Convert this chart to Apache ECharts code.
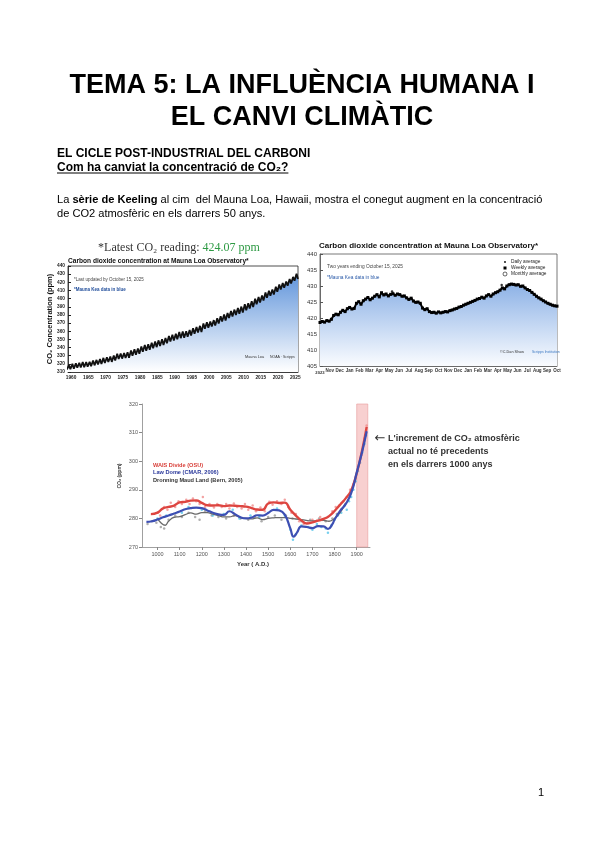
<!DOCTYPE html>
<html><head><meta charset="utf-8">
<script src="https://cdn.jsdelivr.net/npm/echarts@6/dist/echarts.min.js"></script>
<style>html,body{margin:0;padding:0;background:#fff}#c{width:600px;height:848px}</style>
</head><body><div id="c"></div><script>
// ---------- Chart 1: Keeling curve (Mauna Loa, seasonal peaks & troughs) ----------
const keelYears = [1958,1959,1960,1961,1962,1963,1964,1965,1966,1967,1968,1969,1970,1971,1972,1973,1974,1975,1976,1977,1978,1979,1980,1981,1982,1983,1984,1985,1986,1987,1988,1989,1990,1991,1992,1993,1994,1995,1996,1997,1998,1999,2000,2001,2002,2003,2004,2005,2006,2007,2008,2009,2010,2011,2012,2013,2014,2015,2016,2017,2018,2019,2020,2021,2022,2023,2024,2025];
const keelPeak = [317.5,318.3,320.0,320.6,321.3,322.2,322.2,322.4,324.0,324.8,325.8,327.3,328.1,328.9,330.1,332.5,332.6,333.3,334.2,336.4,337.8,338.8,341.3,343.1,344.0,345.8,347.4,348.8,350.3,351.6,354.2,355.6,357.0,359.0,359.6,360.0,361.6,363.6,365.3,366.6,369.5,370.9,371.8,373.6,375.9,378.5,380.5,382.3,384.8,386.5,388.5,390.2,393.1,394.2,396.8,399.8,401.9,403.9,407.6,409.6,411.2,414.7,417.3,419.1,421.0,424.0,426.6,430.5];
const keelTrough = [313.3,313.6,314.0,315.2,315.5,315.9,316.6,317.2,318.2,319.2,319.8,321.0,322.2,322.4,324.1,325.9,326.4,327.2,327.6,329.8,331.1,332.4,334.8,336.0,337.3,339.2,340.5,342.0,343.1,345.3,347.5,348.7,350.2,351.5,352.1,353.1,354.8,356.9,358.4,359.1,363.0,364.3,365.9,367.0,369.6,371.8,373.2,376.1,378.0,379.8,381.4,383.0,385.8,387.8,389.7,393.1,395.2,397.6,401.2,403.4,405.1,408.5,411.1,413.4,415.9,418.5,422.0,424.0];
const keelPeakMonth = 5, keelTroughMonth = 9.5;
const keelYearTicks = [1960,1965,1970,1975,1980,1985,1990,1995,2000,2005,2010,2015,2020,2025];

// ---------- Chart 2: Mauna Loa, two years ending Oct 15 2025 (weekly) ----------
const mloMonths = ['Nov','Dec','Jan','Feb','Mar','Apr','May','Jun','Jul','Aug','Sep','Oct','Nov','Dec','Jan','Feb','Mar','Apr','May','Jun','Jul','Aug','Sep','Oct'];
const mloWeekly = [418.6,418.9,418.7,419.2,419.0,419.6,420.8,421.2,421.0,421.8,422.4,422.0,422.9,423.3,422.8,423.0,424.6,425.1,424.3,425.4,425.9,426.4,425.7,426.2,426.8,427.3,426.6,427.9,427.2,427.5,426.9,427.4,427.6,427.1,427.5,427.3,426.8,426.9,426.3,425.8,426.2,425.3,424.9,425.0,424.6,423.1,422.6,422.9,422.0,421.7,421.8,421.5,421.9,421.6,421.8,422.0,421.9,422.3,422.5,422.8,423.0,423.4,423.6,424.0,424.3,424.6,424.9,425.2,425.5,425.9,426.1,426.5,426.2,426.9,427.3,426.8,427.5,427.9,428.2,428.7,429.4,429.1,430.0,430.4,430.6,430.5,430.3,430.4,429.9,430.0,429.4,428.9,428.6,428.0,427.4,426.8,426.3,425.9,425.4,425.0,424.6,424.3,424.0,423.8,423.7];
const mloDailyOutliers = [[10.95,418.4],[9.9,424.2],[18.4,430.3],[20.4,427.6],[4.2,423.9],[7.3,428.3]];

// ---------- Chart 3: last 1000 years (ice cores) ----------
const waisYears = [970,1000,1025,1050,1075,1100,1125,1150,1175,1200,1225,1250,1275,1300,1325,1350,1375,1400,1425,1450,1475,1500,1525,1550,1575,1600,1625,1650,1675,1700,1725,1750,1775,1800,1825,1850,1875,1900,1925,1945];
const waisCO2  = [281.5,282,283.5,284,284.5,285.6,285.8,286.2,286.3,285.4,284.6,284.5,284.6,284.3,284.5,284.4,284.3,284.1,283.6,283.1,283.0,285.2,285.6,285.4,285.5,283.0,281.0,279.3,278.2,278.6,279.2,279.8,280.8,282.6,284.8,287.0,289.8,295.8,304.0,312.0];
const ldYears = [950,975,1000,1025,1050,1075,1100,1125,1150,1175,1200,1225,1250,1275,1300,1325,1350,1375,1400,1425,1450,1475,1500,1525,1550,1575,1600,1615,1630,1650,1675,1700,1725,1750,1770,1790,1800,1825,1850,1875,1900,1925,1945];
const ldCO2   = [278.8,279.0,279.6,280.4,281.0,281.7,282.4,283.2,283.6,283.8,283.6,282.8,282.0,281.4,281.2,282.5,281.5,280.4,280.0,280.3,281.1,281.0,281.9,283.0,282.8,281.3,276.5,273.6,275.0,277.2,277.0,276.6,277.3,277.2,276.3,278.0,279.6,282.6,285.0,288.8,296.0,303.5,310.5];
const dmlYears = [1000,1015,1035,1050,1075,1100,1125,1150,1175,1200,1225,1250,1275,1300,1325,1350,1375,1400,1425,1450,1475,1500,1525,1550,1575,1600,1650,1700,1750,1775,1800,1825,1850];
const dmlCO2   = [280.0,278.5,277.6,279.0,280.4,280.6,281.3,281.9,281.5,282.0,282.0,281.5,281.0,280.5,280.5,281.0,280.3,280.0,279.8,280.2,279.6,280.0,280.2,280.3,280.3,280.0,279.6,279.1,279.3,279.0,280.0,282.0,285.5];
const waisPts = [[1002,282],[1012,281],[1030,284],[1045,283],[1060,285.5],[1080,284],[1095,286],[1110,285],[1130,286.5],[1145,285],[1160,287],[1175,286],[1190,285],[1205,287.5],[1215,284],[1235,285],[1255,283.8],[1270,285],[1290,284],[1310,285],[1325,283.5],[1345,285.2],[1360,284],[1380,283.5],[1395,285],[1410,283],[1430,284.5],[1445,282.5],[1465,283.8],[1485,282.5],[1505,285.8],[1520,284.8],[1540,286],[1560,285],[1575,286.5],[1590,284],[1605,282],[1625,281.5],[1640,279],[1660,278],[1680,278.5],[1700,279.5],[1720,279.2],[1735,280.5],[1750,279.5],[1770,280.5],[1790,282.5],[1805,284],[1820,284.5],[1840,286],[1855,287.5],[1870,290],[1885,292],[1905,298],[1920,302],[1935,308],[1945,312.5]];
const ldPts = [[1000,280],[1040,281],[1110,282],[1140,284],[1200,283],[1250,281],[1300,281.5],[1340,283],[1370,280],[1420,281],[1460,280.5],[1500,282],[1540,283.5],[1575,281],[1600,276],[1612,272.5],[1625,274.5],[1650,277.5],[1680,277],[1700,276],[1720,278],[1740,277],[1760,276.5],[1770,275],[1785,277.5],[1800,279.5],[1815,281],[1830,282],[1845,284.5],[1855,283],[1865,286],[1875,287.5],[1885,290],[1895,293],[1905,296.5],[1915,299.5],[1925,303],[1935,306],[1942,309]];
const dmlPts = [[955,278],[975,279],[995,278.5],[1015,277],[1030,276.5],[1050,279.5],[1080,281],[1110,280.5],[1140,282],[1170,280.5],[1190,279.5],[1215,282.5],[1245,281],[1275,280.5],[1310,280],[1345,281],[1375,280],[1410,279.5],[1440,280.5],[1470,279],[1500,280.5],[1530,281],[1560,279.5],[1580,281],[1610,280],[1650,279],[1690,279.5],[1730,280],[1760,279],[1790,280],[1810,281.5],[1830,283]];
const c3YearTicks = [1000,1100,1200,1300,1400,1500,1600,1700,1800,1900];
const industrialBand = [1900, 1950];

// ---------- build ----------
const keelData = [];
keelYears.forEach((y, i) => {
  keelData.push([y + (keelPeakMonth - 0.5) / 12, keelPeak[i]]);
  keelData.push([y + keelTroughMonth / 12, keelTrough[i]]);
});
const mloData = mloWeekly.map((v, i) => [i * 24 / (mloWeekly.length - 1), v]);
const zip = (a, b) => a.map((x, i) => [x, b[i]]);

const SANS = '"Liberation Sans", Arial, sans-serif';
function T(text, x, y, o) {
  o = o || {};
  return {
    type: 'text', x: x, y: y, rotation: o.rot || 0, z: 100,
    style: {
      text: text, x: 0, y: 0,
      fill: o.color || '#000',
      font: (o.weight || 'normal') + ' ' + (o.size || 10) + 'px ' + (o.family || SANS),
      align: o.align || 'left', verticalAlign: o.va || 'middle',
      rich: o.rich
    }
  };
}
function measure(txt, font) {
  const ctx = document.createElement('canvas').getContext('2d');
  ctx.font = font; return ctx.measureText(txt).width;
}
const subTxt = 'Com ha canviat la concentració de CO₂?';
const subW = measure(subTxt, 'bold 12px ' + SANS);
const PF = 11.1;

const graphics = [
  T('TEMA 5: LA INFLUÈNCIA HUMANA I', 302, 86, {size: 27, weight: 'bold', align: 'center'}),
  T('EL CANVI CLIMÀTIC', 302, 118, {size: 27, weight: 'bold', align: 'center'}),
  T('EL CICLE POST-INDUSTRIAL DEL CARBONI', 57, 154, {size: 12, weight: 'bold'}),
  T(subTxt, 57, 168, {size: 12, weight: 'bold'}),
  {type: 'line', shape: {x1: 57, y1: 173, x2: 57 + subW, y2: 173}, style: {stroke: '#000', lineWidth: 1}},
  {type: 'text', x: 57, y: 200, z: 100, style: {text: 'La {b|sèrie de Keeling} al cim  del Mauna Loa, Hawaii, mostra el conegut augment en la concentració', x: 0, y: 0, fill: '#000', font: PF + 'px ' + SANS, verticalAlign: 'middle', rich: {b: {fontWeight: 'bold', fontSize: PF, fontFamily: 'Liberation Sans'}}}},
  T('de CO2 atmosfèric en els darrers 50 anys.', 57, 214, {size: PF}),
  T('1', 538, 793, {size: 11}),
  // chart 1 texts
  {type: 'text', x: 179, y: 248, z: 100, style: {text: '*Latest CO₂ reading: {g|424.07 ppm}', x: 0, y: 0, fill: '#333', font: '12px "Liberation Serif", serif', align: 'center', verticalAlign: 'middle', rich: {g: {fill: '#2e9a44', fontSize: 12, fontFamily: 'Liberation Serif'}}}},
  T('Carbon dioxide concentration at Mauna Loa Observatory*', 68, 261, {size: 6.6, weight: 'bold', color: '#111'}),
  T('*Last updated by October 15, 2025', 74, 280, {size: 4.5, color: '#444'}),
  T('*Mauna Kea data in blue', 74, 290, {size: 4.5, color: '#1f4c9a', weight: 'bold'}),
  T('CO₂ Concentration (ppm)', 50, 319, {size: 7.5, weight: 'bold', align: 'center', rot: Math.PI / 2, color: '#111'}),
  T('Mauna Loa', 245, 357, {size: 3.8, color: '#333'}),
  {type: 'rect', shape: {x: 263, y: 354, width: 5, height: 5}, style: {fill: '#3a6db5'}},
  T('NOAA · Scripps', 270, 357, {size: 3.5, color: '#333'}),
  // chart 2 texts
  T('Carbon dioxide concentration at Mauna Loa Observatory*', 319, 246, {size: 8, weight: 'bold', color: '#111'}),
  T('Two years ending October 15, 2025', 327, 267, {size: 4.8, color: '#444'}),
  T('*Mauna Kea data in blue', 327, 278, {size: 4.8, color: '#2a5aa8'}),
  {type: 'circle', shape: {cx: 505, cy: 262, r: 0.9}, style: {fill: '#000'}},
  {type: 'rect', shape: {x: 503.5, y: 266.5, width: 3, height: 3}, style: {fill: '#000'}},
  {type: 'circle', shape: {cx: 505, cy: 274, r: 2}, style: {fill: '#fff', stroke: '#000', lineWidth: 0.6}},
  T('Daily average', 511, 262, {size: 4.8, color: '#222'}),
  T('Weekly average', 511, 268, {size: 4.8, color: '#222'}),
  T('Monthly average', 511, 274, {size: 4.8, color: '#222'}),
  T('©C.Dan Shaw', 500, 352, {size: 3.8, color: '#333'}),
  {type: 'circle', shape: {cx: 527, cy: 352, r: 3.5}, style: {fill: '#3b78c2'}},
  T('Scripps Institution', 532, 352, {size: 3.5, color: '#3b78c2'}),
  T('2023', 320, 373, {size: 4.2, weight: 'bold', color: '#333', align: 'center'}),
  // chart 3 texts
  T('WAIS Divide (OSU)', 153, 465, {size: 5.6, weight: 'bold', color: '#d8403a'}),
  T('Law Dome (CMAR, 2006)', 153, 472.5, {size: 5.6, weight: 'bold', color: '#2c3a9c'}),
  T('Dronning Maud Land (Bern, 2005)', 153, 480, {size: 5.6, weight: 'bold', color: '#333'}),
  T('Year ( A.D.)', 253, 564, {size: 6, weight: 'bold', color: '#333', align: 'center'}),
  T('CO₂ (ppm)', 120, 476, {size: 5, weight: 'bold', color: '#333', align: 'center', rot: Math.PI / 2}),
  T('←', 380, 439, {size: 13, weight: 'normal', color: '#333', align: 'center', family: '"DejaVu Sans", sans-serif'}),
  T("L'increment de CO₂ atmosfèric", 388, 439, {size: 9, weight: 'bold', color: '#333'}),
  T('actual no té precedents', 388, 452, {size: 9, weight: 'bold', color: '#333'}),
  T('en els darrers 1000 anys', 388, 465, {size: 9, weight: 'bold', color: '#333'})
];

const lbl = (size, color, bold) => ({fontSize: size, color: color, fontWeight: bold ? 'bold' : 'normal', fontFamily: 'Liberation Sans'});
const plain = v => String(Math.round(v));

const option = {
  backgroundColor: '#fff',
  animation: false,
  graphic: graphics,
  grid: [
    {left: 68, top: 266, width: 230, height: 106, show: true, borderColor: '#222', borderWidth: 0.8, backgroundColor: '#fff'},
    {left: 320, top: 254, width: 237, height: 112, show: true, borderColor: '#555', borderWidth: 0.8, backgroundColor: '#fff'},
    {left: 142, top: 404, width: 228, height: 143}
  ],
  xAxis: [
    {gridIndex: 0, type: 'value', min: 1959.1, max: 2025.8,
     axisLine: {lineStyle: {color: '#222', width: 0.8}},
     axisTick: {inside: true, length: 3, customValues: keelYearTicks, lineStyle: {color: '#222'}},
     axisLabel: Object.assign(lbl(4.8, '#222', true), {margin: 3, customValues: keelYearTicks, formatter: plain}),
     splitLine: {show: false}},
    {gridIndex: 1, type: 'value', min: 0, max: 24,
     axisLine: {lineStyle: {color: '#555', width: 0.8}},
     axisTick: {inside: true, length: 3, customValues: mloMonths.map((m, i) => i + 0.5), lineStyle: {color: '#555'}},
     axisLabel: Object.assign(lbl(4.5, '#333', true), {margin: 2, customValues: mloMonths.map((m, i) => i + 1), formatter: v => mloMonths[Math.round(v) - 1] || ''}),
     splitLine: {show: false}},
    {gridIndex: 2, type: 'value', min: 930, max: 1960,
     axisLine: {lineStyle: {color: '#888', width: 0.8}},
     axisTick: {length: 3, customValues: c3YearTicks, lineStyle: {color: '#888'}},
     axisLabel: Object.assign(lbl(5.5, '#555', false), {margin: 4, customValues: c3YearTicks, formatter: plain}),
     splitLine: {show: false}}
  ],
  yAxis: [
    {gridIndex: 0, type: 'value', min: 310, max: 440, interval: 10,
     axisLine: {show: true, lineStyle: {color: '#222', width: 0.8}},
     axisTick: {inside: true, length: 3, lineStyle: {color: '#222'}},
     axisLabel: Object.assign(lbl(4.8, '#222', true), {margin: 3}),
     splitLine: {show: false}},
    {gridIndex: 1, type: 'value', min: 405, max: 440, interval: 5,
     axisLine: {show: true, lineStyle: {color: '#555', width: 0.8}},
     axisTick: {inside: true, length: 3, lineStyle: {color: '#555'}},
     axisLabel: Object.assign(lbl(6, '#333', false), {margin: 3}),
     splitLine: {show: false}},
    {gridIndex: 2, type: 'value', min: 270, max: 320, interval: 10,
     axisLine: {show: true, lineStyle: {color: '#888', width: 0.8}},
     axisTick: {show: true, length: 3, lineStyle: {color: '#888'}},
     axisLabel: Object.assign(lbl(5.5, '#555', false), {margin: 4}),
     splitLine: {show: false}}
  ],
  series: [
    {type: 'line', xAxisIndex: 0, yAxisIndex: 0, data: keelData, showSymbol: false,
     lineStyle: {color: '#111', width: 1.8},
     areaStyle: {origin: 'start', opacity: 1, color: new echarts.graphic.LinearGradient(0, 0, 0, 1, [{offset: 0, color: '#6195db'}, {offset: 1, color: '#ffffff'}])}},
    {type: 'line', xAxisIndex: 1, yAxisIndex: 1, data: mloData, symbol: 'rect', symbolSize: 3,
     itemStyle: {color: '#000'}, lineStyle: {color: '#000', width: 2},
     areaStyle: {origin: 'start', opacity: 1, color: new echarts.graphic.LinearGradient(0, 0, 0, 1, [{offset: 0, color: '#8db2e6'}, {offset: 1, color: '#fafcff'}])}},
    {type: 'scatter', xAxisIndex: 1, yAxisIndex: 1, data: mloDailyOutliers, symbolSize: 2.5, itemStyle: {color: '#000'}},
    {type: 'line', xAxisIndex: 2, yAxisIndex: 2, data: [],
     markArea: {silent: true, itemStyle: {color: 'rgba(242,170,170,0.55)', borderColor: '#e79a9a', borderWidth: 0.6},
       data: [[{xAxis: industrialBand[0]}, {xAxis: industrialBand[1]}]]}},
    {type: 'scatter', xAxisIndex: 2, yAxisIndex: 2, data: dmlPts, symbolSize: 2.5, itemStyle: {color: '#9a9a9a'}},
    {type: 'scatter', xAxisIndex: 2, yAxisIndex: 2, data: waisPts, symbolSize: 2.5, itemStyle: {color: '#f08c8c'}},
    {type: 'scatter', xAxisIndex: 2, yAxisIndex: 2, data: ldPts, symbolSize: 2.5, itemStyle: {color: '#55c4ea'}},
    {type: 'line', xAxisIndex: 2, yAxisIndex: 2, data: zip(dmlYears, dmlCO2), smooth: true, showSymbol: false, lineStyle: {color: '#6a6a6a', width: 1.3}},
    {type: 'line', xAxisIndex: 2, yAxisIndex: 2, data: zip(waisYears, waisCO2), smooth: true, showSymbol: false, lineStyle: {color: '#dd4540', width: 2.4}},
    {type: 'line', xAxisIndex: 2, yAxisIndex: 2, data: zip(ldYears, ldCO2), smooth: true, showSymbol: false, lineStyle: {color: '#3d4fb3', width: 2.2}}
  ]
};
const chart = echarts.init(document.getElementById('c'), null, {renderer: 'canvas'});
chart.setOption(option);
</script></body></html>
